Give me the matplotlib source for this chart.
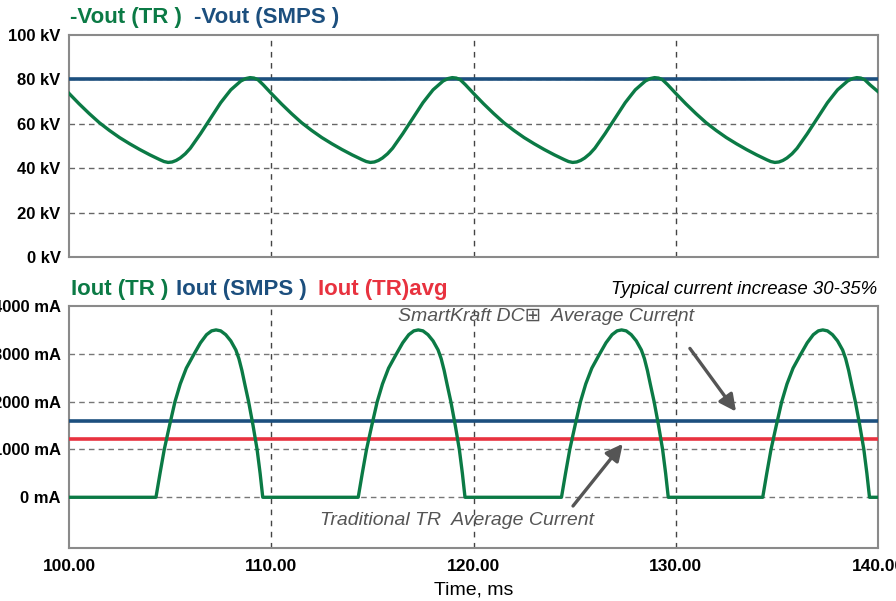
import numpy as np
import matplotlib.pyplot as plt

# colours
GREEN = '#0b7a45'
BLUE = '#1c4f7e'
RED = '#e8323f'
GREY_TXT = '#555555'

# --- top panel: output voltage, one 10 ms cycle ---
v_cycle_dt = [0.0, 0.5, 1.0, 1.5, 2.0, 2.5, 3.0, 3.5, 4.0, 4.5, 4.7, 4.9, 5.1, 5.3,
              5.5, 5.75, 6.0, 6.5, 7.0, 7.5, 7.8, 8.0, 8.5, 8.75, 8.95, 9.15, 9.35, 9.6]
v_cycle_kv = [73.7, 69.0, 64.6, 60.5, 57.0, 53.8, 51.0, 48.4, 46.0, 43.8, 43.0, 42.6, 42.8, 43.5,
              44.6, 46.5, 49.0, 55.5, 62.5, 69.5, 73.0, 75.3, 79.3, 80.4, 80.8, 80.6, 79.8, 77.6]
v_cycle_starts = [100, 110, 120, 130]
v_end = (140, 74.5)
v_smps_kv = 80

# --- bottom panel: output current pulse ---
i_pulse_dt = [0.0, 0.2, 0.41, 0.67, 0.94, 1.2, 1.5, 1.89, 2.2, 2.5, 2.75, 2.97, 3.2,
              3.45, 3.7, 3.95, 4.1, 4.25, 4.4, 4.58, 4.8, 5.0, 5.15, 5.28]
i_pulse_ma = [0, 500, 1000, 1500, 2000, 2370, 2700, 3000, 3230, 3400, 3480, 3500, 3480,
              3400, 3270, 3080, 2900, 2650, 2350, 2000, 1500, 1000, 500, 0]
i_pulse_starts = [104.3, 114.3, 124.35, 134.3]
i_smps_ma = 1600
i_tr_avg_ma = 1220

x_ticks = [100, 110, 120, 130, 140]
v_ticks = [0, 20, 40, 60, 80, 100]
i_ticks = [0, 1000, 2000, 3000, 4000]

# build the series
v_t, v_val = [], []
for s in v_cycle_starts:
    v_t += [s + d for d in v_cycle_dt]
    v_val += v_cycle_kv
v_t.append(v_end[0])
v_val.append(v_end[1])

i_t, i_val = [100.0], [0]
for s in i_pulse_starts:
    i_t += [s + d for d in i_pulse_dt]
    i_val += i_pulse_ma
i_t.append(140.0)
i_val.append(0)

plt.rcParams['font.family'] = ['Liberation Sans', 'DejaVu Sans']

fig = plt.figure(figsize=(8.96, 6.01), dpi=100)
W, H = 896, 601
ax1 = fig.add_axes([69 / W, 1 - 257 / H, 809 / W, 222 / H])
ax2 = fig.add_axes([69 / W, 1 - 547.5 / H, 809 / W, 241.5 / H])


def style(ax):
    for sp in ax.spines.values():
        sp.set_color('#8a8a8a')
        sp.set_linewidth(1.5)
    ax.tick_params(length=0, pad=6)
    for lbl in ax.get_yticklabels():
        lbl.set_fontweight('bold')
        lbl.set_fontsize(12)
    for x in [110, 120, 130]:
        ax.axvline(x, color='#444444', lw=1, ls=(0, (4, 4)), zorder=1)


# top panel
for y in [20, 40, 60, 80]:
    ax1.axhline(y, color='#666666', lw=1, ls=(0, (4, 3)), zorder=1)
ax1.axhline(v_smps_kv, color=BLUE, lw=2.6, zorder=3)
ax1.plot(v_t, v_val, color=GREEN, lw=2.4, zorder=4, solid_joinstyle='round')
ax1.set_xlim(100, 140)
ax1.set_ylim(0, 100)
ax1.set_xticks(x_ticks)
ax1.set_xticklabels([])
ax1.set_yticks(v_ticks)
ax1.set_yticklabels([f'{v} kV' for v in v_ticks])
style(ax1)

# bottom panel
for y in [0, 1000, 2000, 3000]:
    ax2.axhline(y, color='#777777', lw=1, ls=(0, (4, 3)), zorder=1)
ax2.axhline(i_smps_ma, color=BLUE, lw=2.6, zorder=3)
ax2.axhline(i_tr_avg_ma, color=RED, lw=2.6, zorder=3)
ax2.plot(i_t, i_val, color=GREEN, lw=2.4, zorder=4, solid_joinstyle='round')
ax2.set_xlim(100, 140)
ax2.set_ylim(-1050, 4000)
ax2.set_xticks(x_ticks)
ax2.set_xticklabels([f'{x:.2f}' for x in x_ticks], fontweight='bold', fontsize=12.5)
ax2.set_yticks(i_ticks)
ax2.set_yticklabels([f'{v} mA' for v in i_ticks])
style(ax2)
ax2.tick_params(axis='x', pad=8)
ax2.set_xlabel('Time, ms', fontsize=14, labelpad=6)

# series titles
fig.text(70 / W, 1 - 18 / H, '-Vout (TR )', color=GREEN, fontsize=16, fontweight='bold', va='center')
fig.text(194 / W, 1 - 18 / H, '-Vout (SMPS )', color=BLUE, fontsize=16, fontweight='bold', va='center')
fig.text(71 / W, 1 - 289 / H, 'Iout (TR )', color=GREEN, fontsize=16, fontweight='bold', va='center')
fig.text(176 / W, 1 - 289 / H, 'Iout (SMPS )', color=BLUE, fontsize=16, fontweight='bold', va='center')
fig.text(318 / W, 1 - 289 / H, 'Iout (TR)avg', color=RED, fontsize=16, fontweight='bold', va='center')
fig.text(877 / W, 1 - 289 / H, 'Typical current increase 30-35%', color='black',
         fontsize=13.4, fontstyle='italic', ha='right', va='center')

# annotations
ax2.text(123.6, 3790, 'SmartKraft DC\u229e  Average Current', color=GREY_TXT, fontsize=14,
         fontstyle='italic', ha='center', va='center')
ax2.text(119.2, -476, 'Traditional TR  Average Current', color=GREY_TXT, fontsize=14,
         fontstyle='italic', ha='center', va='center')
arrow = dict(arrowstyle='-|>,head_length=1.0,head_width=0.5', color=GREY_TXT, lw=2.4,
             shrinkA=0, shrinkB=0)
ax2.annotate('', xy=(132.98, 1792), xytext=(130.70, 3113), arrowprops=arrow, zorder=5)
ax2.annotate('', xy=(127.38, 1118), xytext=(124.92, -182), arrowprops=arrow, zorder=5)

fig.savefig('out.png', dpi=100)
